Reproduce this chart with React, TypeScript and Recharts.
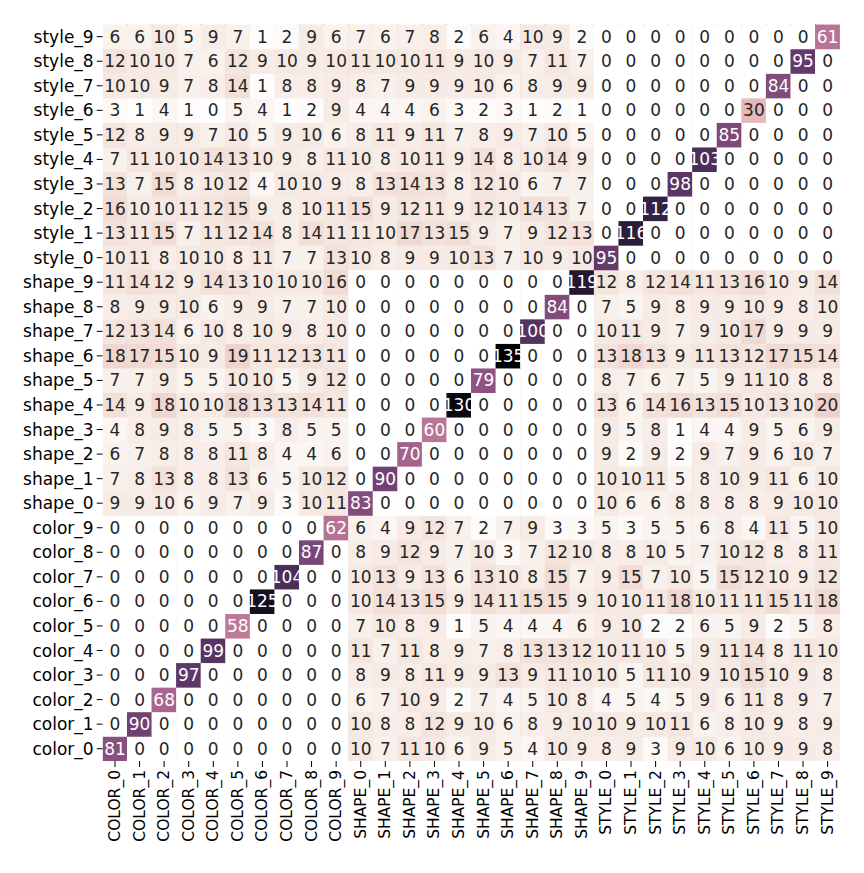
import { ScatterChart, Scatter, XAxis, YAxis, ReferenceLine } from 'recharts'

// column labels, left to right
const colLabels = [
  'COLOR_0', 'COLOR_1', 'COLOR_2', 'COLOR_3', 'COLOR_4', 'COLOR_5', 'COLOR_6', 'COLOR_7', 'COLOR_8', 'COLOR_9',
  'SHAPE_0', 'SHAPE_1', 'SHAPE_2', 'SHAPE_3', 'SHAPE_4', 'SHAPE_5', 'SHAPE_6', 'SHAPE_7', 'SHAPE_8', 'SHAPE_9',
  'STYLE_0', 'STYLE_1', 'STYLE_2', 'STYLE_3', 'STYLE_4', 'STYLE_5', 'STYLE_6', 'STYLE_7', 'STYLE_8', 'STYLE_9',
]

// row labels, bottom to top
const rowLabels = [
  'color_0', 'color_1', 'color_2', 'color_3', 'color_4', 'color_5', 'color_6', 'color_7', 'color_8', 'color_9',
  'shape_0', 'shape_1', 'shape_2', 'shape_3', 'shape_4', 'shape_5', 'shape_6', 'shape_7', 'shape_8', 'shape_9',
  'style_0', 'style_1', 'style_2', 'style_3', 'style_4', 'style_5', 'style_6', 'style_7', 'style_8', 'style_9',
]

// counts per row (COLOR_0 .. STYLE_9)
const style9 = [6, 6, 10, 5, 9, 7, 1, 2, 9, 6, 7, 6, 7, 8, 2, 6, 4, 10, 9, 2, 0, 0, 0, 0, 0, 0, 0, 0, 0, 61]
const style8 = [12, 10, 10, 7, 6, 12, 9, 10, 9, 10, 11, 10, 10, 11, 9, 10, 9, 7, 11, 7, 0, 0, 0, 0, 0, 0, 0, 0, 95, 0]
const style7 = [10, 10, 9, 7, 8, 14, 1, 8, 8, 9, 8, 7, 9, 9, 9, 10, 6, 8, 9, 9, 0, 0, 0, 0, 0, 0, 0, 84, 0, 0]
const style6 = [3, 1, 4, 1, 0, 5, 4, 1, 2, 9, 4, 4, 4, 6, 3, 2, 3, 1, 2, 1, 0, 0, 0, 0, 0, 0, 30, 0, 0, 0]
const style5 = [12, 8, 9, 9, 7, 10, 5, 9, 10, 6, 8, 11, 9, 11, 7, 8, 9, 7, 10, 5, 0, 0, 0, 0, 0, 85, 0, 0, 0, 0]
const style4 = [7, 11, 10, 10, 14, 13, 10, 9, 8, 11, 10, 8, 10, 11, 9, 14, 8, 10, 14, 9, 0, 0, 0, 0, 103, 0, 0, 0, 0, 0]
const style3 = [13, 7, 15, 8, 10, 12, 4, 10, 10, 9, 8, 13, 14, 13, 8, 12, 10, 6, 7, 7, 0, 0, 0, 98, 0, 0, 0, 0, 0, 0]
const style2 = [16, 10, 10, 11, 12, 15, 9, 8, 10, 11, 15, 9, 12, 11, 9, 12, 10, 14, 13, 7, 0, 0, 112, 0, 0, 0, 0, 0, 0, 0]
const style1 = [13, 11, 15, 7, 11, 12, 14, 8, 14, 11, 11, 10, 17, 13, 15, 9, 7, 9, 12, 13, 0, 116, 0, 0, 0, 0, 0, 0, 0, 0]
const style0 = [10, 11, 8, 10, 10, 8, 11, 7, 7, 13, 10, 8, 9, 9, 10, 13, 7, 10, 9, 10, 95, 0, 0, 0, 0, 0, 0, 0, 0, 0]
const shape9 = [11, 14, 12, 9, 14, 13, 10, 10, 10, 16, 0, 0, 0, 0, 0, 0, 0, 0, 0, 119, 12, 8, 12, 14, 11, 13, 16, 10, 9, 14]
const shape8 = [8, 9, 9, 10, 6, 9, 9, 7, 7, 10, 0, 0, 0, 0, 0, 0, 0, 0, 84, 0, 7, 5, 9, 8, 9, 9, 10, 9, 8, 10]
const shape7 = [12, 13, 14, 6, 10, 8, 10, 9, 8, 10, 0, 0, 0, 0, 0, 0, 0, 100, 0, 0, 10, 11, 9, 7, 9, 10, 17, 9, 9, 9]
const shape6 = [18, 17, 15, 10, 9, 19, 11, 12, 13, 11, 0, 0, 0, 0, 0, 0, 135, 0, 0, 0, 13, 18, 13, 9, 11, 13, 12, 17, 15, 14]
const shape5 = [7, 7, 9, 5, 5, 10, 10, 5, 9, 12, 0, 0, 0, 0, 0, 79, 0, 0, 0, 0, 8, 7, 6, 7, 5, 9, 11, 10, 8, 8]
const shape4 = [14, 9, 18, 10, 10, 18, 13, 13, 14, 11, 0, 0, 0, 0, 130, 0, 0, 0, 0, 0, 13, 6, 14, 16, 13, 15, 10, 13, 10, 20]
const shape3 = [4, 8, 9, 8, 5, 5, 3, 8, 5, 5, 0, 0, 0, 60, 0, 0, 0, 0, 0, 0, 9, 5, 8, 1, 4, 4, 9, 5, 6, 9]
const shape2 = [6, 7, 8, 8, 8, 11, 8, 4, 4, 6, 0, 0, 70, 0, 0, 0, 0, 0, 0, 0, 9, 2, 9, 2, 9, 7, 9, 6, 10, 7]
const shape1 = [7, 8, 13, 8, 8, 13, 6, 5, 10, 12, 0, 90, 0, 0, 0, 0, 0, 0, 0, 0, 10, 10, 11, 5, 8, 10, 9, 11, 6, 10]
const shape0 = [9, 9, 10, 6, 9, 7, 9, 3, 10, 11, 83, 0, 0, 0, 0, 0, 0, 0, 0, 0, 10, 6, 6, 8, 8, 8, 8, 9, 10, 10]
const color9 = [0, 0, 0, 0, 0, 0, 0, 0, 0, 62, 6, 4, 9, 12, 7, 2, 7, 9, 3, 3, 5, 3, 5, 5, 6, 8, 4, 11, 5, 10]
const color8 = [0, 0, 0, 0, 0, 0, 0, 0, 87, 0, 8, 9, 12, 9, 7, 10, 3, 7, 12, 10, 8, 8, 10, 5, 7, 10, 12, 8, 8, 11]
const color7 = [0, 0, 0, 0, 0, 0, 0, 104, 0, 0, 10, 13, 9, 13, 6, 13, 10, 8, 15, 7, 9, 15, 7, 10, 5, 15, 12, 10, 9, 12]
const color6 = [0, 0, 0, 0, 0, 0, 125, 0, 0, 0, 10, 14, 13, 15, 9, 14, 11, 15, 15, 9, 10, 10, 11, 18, 10, 11, 11, 15, 11, 18]
const color5 = [0, 0, 0, 0, 0, 58, 0, 0, 0, 0, 7, 10, 8, 9, 1, 5, 4, 4, 4, 6, 9, 10, 2, 2, 6, 5, 9, 2, 5, 8]
const color4 = [0, 0, 0, 0, 99, 0, 0, 0, 0, 0, 11, 7, 11, 8, 9, 7, 8, 13, 13, 12, 10, 11, 10, 5, 9, 11, 14, 8, 11, 10]
const color3 = [0, 0, 0, 97, 0, 0, 0, 0, 0, 0, 8, 9, 8, 11, 9, 9, 13, 9, 11, 10, 10, 5, 11, 10, 9, 10, 15, 10, 9, 8]
const color2 = [0, 0, 68, 0, 0, 0, 0, 0, 0, 0, 6, 7, 10, 9, 2, 7, 4, 5, 10, 8, 4, 5, 4, 5, 9, 6, 11, 8, 9, 7]
const color1 = [0, 90, 0, 0, 0, 0, 0, 0, 0, 0, 10, 8, 8, 12, 9, 10, 6, 8, 9, 10, 10, 9, 10, 11, 6, 8, 10, 9, 8, 9]
const color0 = [81, 0, 0, 0, 0, 0, 0, 0, 0, 0, 10, 7, 11, 10, 6, 9, 5, 4, 10, 9, 8, 9, 3, 9, 10, 6, 10, 9, 9, 8]

// bottom to top, same order as rowLabels
const rows = [
  color0, color1, color2, color3, color4, color5, color6, color7, color8, color9,
  shape0, shape1, shape2, shape3, shape4, shape5, shape6, shape7, shape8, shape9,
  style0, style1, style2, style3, style4, style5, style6, style7, style8, style9,
]

const cells = rows.flatMap((row, y) => row.map((v, x) => ({ x, y, v })))
const vmax = Math.max(...cells.map(c => c.v))

const W = 850
const H = 860
const M = { top: 16.4, right: 18.1, bottom: 7, left: 0 }
const Y_W = 94.7
const X_H = 100
const cellW = (W - M.left - M.right - Y_W) / colLabels.length
const cellH = (H - M.top - M.bottom - X_H) / rowLabels.length

const FONT = '"DejaVu Sans", sans-serif'
const idx = colLabels.map((_, i) => i)

// seaborn-like cubehelix, light (0) -> dark (vmax)
function cubehelix(t: number): [number, number, number] {
  const x = 1 - t
  const a = 0.8 * x * (1 - x) / 2
  const phi = 2 * Math.PI * (0.4 * x)
  const c = Math.cos(phi)
  const s = Math.sin(phi)
  const r = x + a * (-0.14861 * c + 1.78277 * s)
  const g = x + a * (-0.29227 * c - 0.90649 * s)
  const b = x + a * (1.97294 * c)
  const clip = (u: number) => Math.min(1, Math.max(0, u))
  return [clip(r), clip(g), clip(b)]
}

function toHex([r, g, b]: [number, number, number]) {
  return '#' + [r, g, b].map(u => Math.round(u * 255).toString(16).padStart(2, '0')).join('')
}

function luminance([r, g, b]: [number, number, number]) {
  const lin = (u: number) => (u <= 0.03928 ? u / 12.92 : Math.pow((u + 0.055) / 1.055, 2.4))
  return 0.2126 * lin(r) + 0.7152 * lin(g) + 0.0722 * lin(b)
}

function CellRect(p: any) {
  const { cx, cy, payload } = p
  const rgb = cubehelix(payload.v / vmax)
  return (
    <rect
      x={cx - cellW / 2 - 0.3}
      y={cy - cellH / 2 - 0.3}
      width={cellW + 0.6}
      height={cellH + 0.6}
      fill={toHex(rgb)}
    />
  )
}

function CellText(p: any) {
  const { cx, cy, payload } = p
  const rgb = cubehelix(payload.v / vmax)
  return (
    <text
      x={cx}
      y={cy}
      textAnchor="middle"
      dominantBaseline="central"
      fontSize={17}
      fontFamily={FONT}
      fill={luminance(rgb) < 0.408 ? '#ffffff' : '#262626'}
    >
      {payload.v}
    </text>
  )
}

function XTick(p: any) {
  const { x, y, payload } = p
  return (
    <text
      x={x}
      y={y}
      transform={`rotate(-90, ${x}, ${y})`}
      textAnchor="end"
      dominantBaseline="central"
      fontSize={15.5}
      fontFamily={FONT}
      fill="#000"
    >
      {colLabels[payload.value]}
    </text>
  )
}

export default function App() {
  return (
    <div style={{ width: W, height: H }}>
      <ScatterChart width={W} height={H} margin={M}>
        <XAxis
          type="number"
          dataKey="x"
          domain={[-0.5, 29.5]}
          ticks={idx}
          interval={0}
          allowDataOverflow
          axisLine={false}
          tickLine={{ stroke: '#000', strokeWidth: 1 }}
          tickSize={6}
          tickMargin={3}
          height={X_H}
          tick={<XTick />}
        />
        <YAxis
          type="number"
          dataKey="y"
          domain={[-0.5, 29.5]}
          ticks={idx}
          interval={0}
          allowDataOverflow
          axisLine={false}
          tickLine={{ stroke: '#000', strokeWidth: 1 }}
          tickSize={6}
          tickMargin={3}
          width={Y_W}
          tickFormatter={(v: number) => rowLabels[v]}
          tick={{ fontSize: 17, fontFamily: FONT, fill: '#000' }}
        />
        <Scatter data={cells} shape={(p: any) => <CellRect {...p} />} isAnimationActive={false} />
        {idx.slice(0, 29).map(i => (
          <ReferenceLine key={i} x={i + 0.5} stroke="#555" strokeWidth={1} />
        ))}
        <Scatter data={cells} shape={(p: any) => <CellText {...p} />} isAnimationActive={false} />
      </ScatterChart>
    </div>
  )
}
